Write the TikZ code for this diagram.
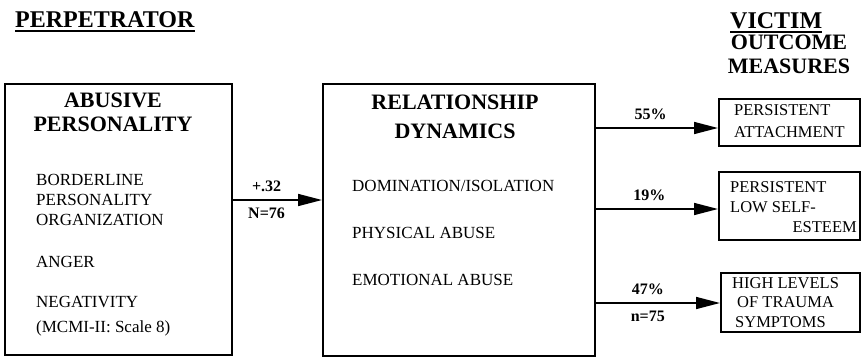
\documentclass[tikz,border=0pt]{standalone}
\usepackage{fontspec}
\setmainfont{Liberation Serif}
\usetikzlibrary{arrows.meta,positioning}
\tikzset{
  box/.style={
    rectangle, draw, line width=1.6pt, anchor=north west, inner sep=0pt
  },
  hdr/.style={
    font=\bfseries\fontsize{24}{26}\selectfont, inner sep=0pt, anchor=base west
  },
  ttl/.style={
    font=\bfseries\fontsize{22}{24}\selectfont, align=center, inner sep=0pt, anchor=base
  },
  txt/.style={
    font=\fontsize{17}{20}\selectfont, align=left, inner sep=0pt, anchor=base west
  },
  res/.style={
    font=\fontsize{16.5}{20}\selectfont, align=left, inner sep=0pt, anchor=base west
  },
  lbl/.style={
    font=\bfseries\fontsize{16}{18}\selectfont, inner sep=7pt
  },
  edge/.style={-{Triangle[length=24pt,width=12pt]}, line width=1.6pt},
  uline/.style={line width=1.8pt}
}

\begin{document}
\begin{tikzpicture}[x=1pt, y=-1pt]
\useasboundingbox (0,0) rectangle (862,357);
% headings
\node[hdr] (perp) at (15,27) {PERPETRATOR};
\node[hdr] (vict) at (730,28) {VICTIM};
\draw[uline] ([yshift=-4pt]perp.base west) -- ([yshift=-4pt]perp.base east);
\draw[uline] ([yshift=-4pt]vict.base west) -- ([yshift=-4pt]vict.base east);
\node[ttl] (meas) at (789,73) {OUTCOME\\MEASURES};
% boxes
\node[box, minimum width=227pt, minimum height=271pt] (abuse) at (4,83) {};
\node[box, minimum width=272pt, minimum height=272pt] (dyn) at (322,83) {};
\node[box, minimum width=141pt, minimum height=47pt] (attach) at (718,98) {};
\node[box, minimum width=141pt, minimum height=68pt] (esteem) at (718,171) {};
\node[box, minimum width=139pt, minimum height=59pt] (trauma) at (720,272) {};
% perpetrator
\node[ttl] (abtl) at (113,131) {ABUSIVE\\PERSONALITY};
\node[txt] (bpo) at (36,225) {BORDERLINE\\PERSONALITY\\ORGANIZATION};
\node[txt] (anger) at (36,267) {ANGER};
\node[txt, font=\fontsize{17}{25}\selectfont] (neg) at (36,332) {NEGATIVITY\\(MCMI-II: Scale 8)};
% dynamics
\node[ttl, font=\bfseries\fontsize{22}{29}\selectfont] (dytl) at (455,138) {RELATIONSHIP\\DYNAMICS};
\node[txt] (dom) at (352,191) {DOMINATION/ISOLATION};
\node[txt] (phys) at (352,238) {PHYSICAL ABUSE};
\node[txt] (emo) at (352,285) {EMOTIONAL ABUSE};
% outcomes
\node[res, font=\fontsize{16.5}{22}\selectfont] (att) at (734,137) {PERSISTENT\\ATTACHMENT};
\node[res] (lse) at (730,212) {PERSISTENT\\LOW SELF-};
\node[res, anchor=base east] (est) at (857,232) {ESTEEM};
\node[res, font=\fontsize{16.5}{19.5}\selectfont] (hl) at (732,327) {HIGH LEVELS\\\hspace{5pt}OF TRAUMA\\\hspace{3pt}SYMPTOMS};
% paths
\draw[edge] (abuse.east |- 0,200) -- node[lbl, above, pos=0.38] (r32) {+.32}
  node[lbl, below, pos=0.38] (n76) {N=76} (dyn.west |- 0,200);
\draw[edge] (dyn.east |- 0,128) -- node[lbl, above, pos=0.45] (p55) {55\%} (attach.west |- 0,128);
\draw[edge] (dyn.east |- 0,209) -- node[lbl, above, pos=0.44] (p19) {19\%} (esteem.west |- 0,209);
\draw[edge] (dyn.east |- 0,303) -- node[lbl, above, pos=0.42] (p47) {47\%}
  node[lbl, below, pos=0.42] (n75) {n=75} (trauma.west |- 0,303);
\end{tikzpicture}
\end{document}
